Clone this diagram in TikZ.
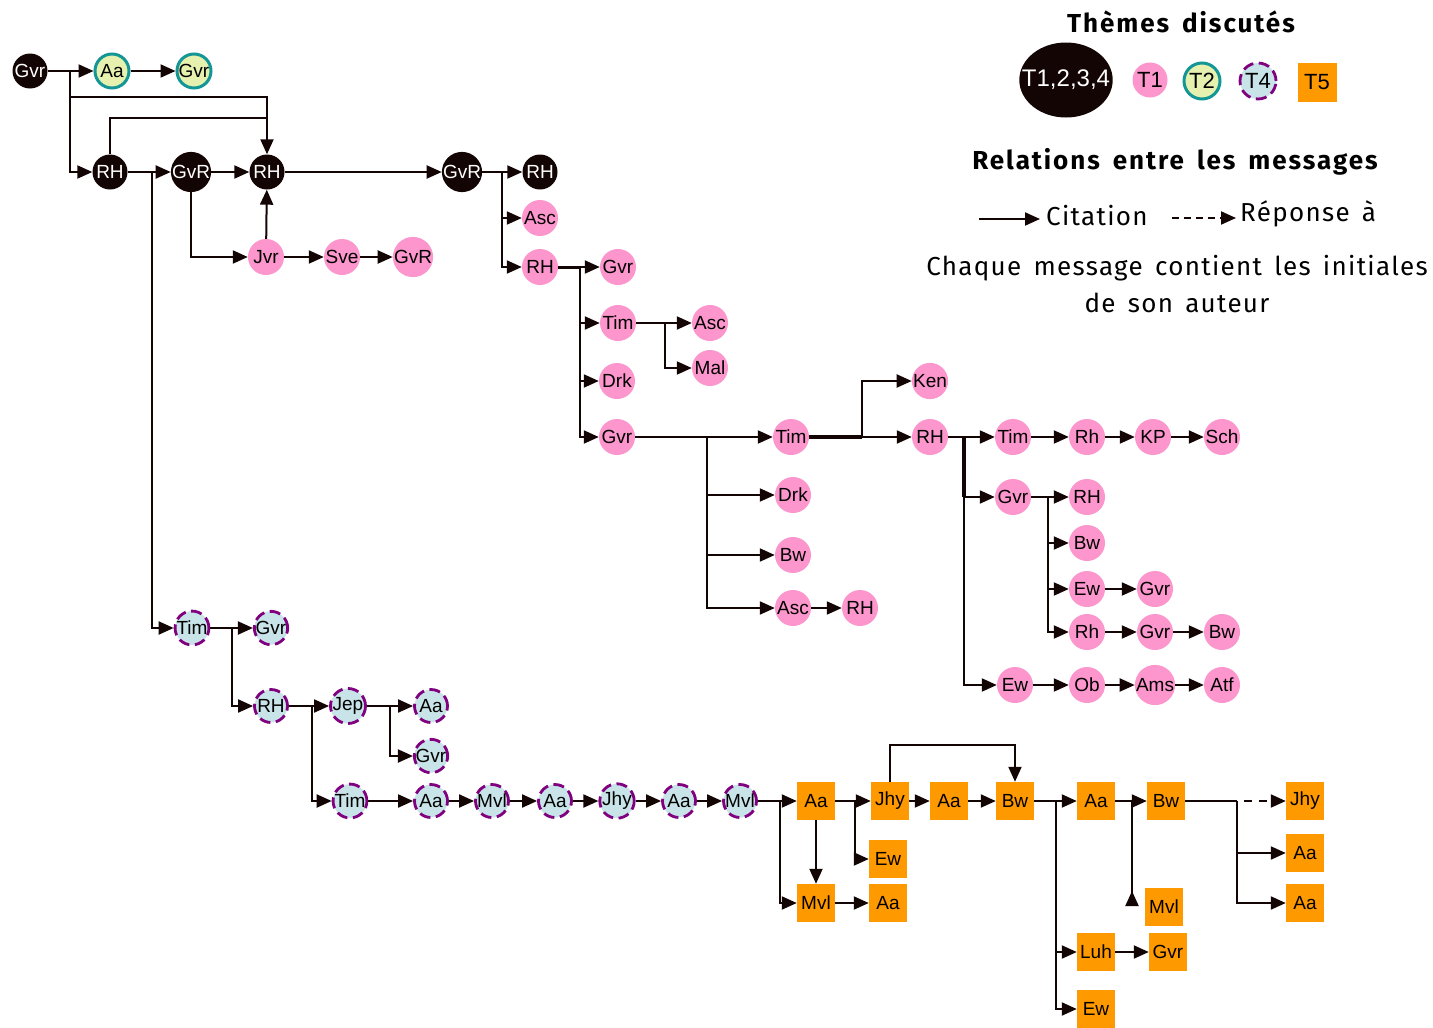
\documentclass[tikz,border=0pt]{standalone}
\usepackage{fontspec}
\setmainfont{Liberation Sans}
\newfontfamily\legfont[LetterSpace=5,WordSpace=1.5]{Fira Sans}
\newfontfamily\legboldfont[LetterSpace=7.5,WordSpace=1.6]{Fira Sans}
\usetikzlibrary{arrows.meta,shapes.geometric,calc}
\definecolor{pk}{RGB}{252,150,204}
\definecolor{og}{RGB}{255,153,0}
\definecolor{tlb}{RGB}{20,150,150}
\definecolor{tlf}{RGB}{230,240,175}
\definecolor{dsf}{RGB}{200,228,232}
\definecolor{dsb}{RGB}{128,0,128}
\definecolor{ink}{RGB}{20,5,5}
\begin{document}
\begin{tikzpicture}[x=1pt,y=-1pt,
 every node/.style={font=\fontsize{19}{19}\selectfont, inner sep=0pt},
 blk/.style={circle,fill=ink,text=white,minimum size=35pt},
 pkn/.style={circle,fill=pk,minimum size=36pt},
 tln/.style={circle,fill=tlf,draw=tlb,line width=3pt,minimum size=34pt},
 dsn/.style={circle,fill=dsf,draw=dsb,line width=2.8pt,dash pattern=on 11pt off 5.5pt,minimum size=33pt},
 ogn/.style={rectangle,fill=og,minimum size=38pt},
 arr/.style={draw=ink,line width=2pt,-{Triangle[length=15pt,width=13pt]}},
 ln/.style={draw=ink,line width=2pt},
 legt/.style={font=\legfont\fontsize{26}{26}\selectfont},
 legb/.style={font=\legboldfont\bfseries\fontsize{26}{26}\selectfont},
]
\useasboundingbox (0,0) rectangle (1433,1028);
\fill[white] (0,0) rectangle (1433,1028);

% ---- legend ----
\node[legb] (lt1) at (1181,22) {Thèmes discutés};
\node[ellipse,fill=ink,text=white,minimum width=93pt,minimum height=75pt,inner xsep=-11pt,font=\fontsize{24}{24}\selectfont] (lg0) at (1066,80) {T1,2,3,4};
\node[pkn,minimum size=35pt,font=\fontsize{22}{22}\selectfont] (lg1) at (1150,80) {T1};
\node[tln,minimum size=36pt,font=\fontsize{22}{22}\selectfont] (lg2) at (1202,81) {T2};
\node[dsn,minimum size=36pt,font=\fontsize{22}{22}\selectfont] (lg3) at (1258,81) {T4};
\node[ogn,minimum size=39pt,font=\fontsize{22}{22}\selectfont] (lg4) at (1317,82) {T5};
\node[legb] (lt2) at (1175,162) {Relations entre les messages};
\coordinate (la1) at (979,219);
\coordinate (la2) at (1040,219);
\draw[arr] (la1) -- (la2);
\node[legt,anchor=west] (lt3) at (1046,216) {Citation};
\coordinate (la3) at (1172,218);
\coordinate (la4) at (1236,218);
\draw[arr,dash pattern=on 7pt off 5pt] (la3) -- (la4);
\node[legt,anchor=west] (lt4) at (1240,214) {Réponse à};
\node[legt] (lt5) at (1177,268) {Chaque message contient les initiales};
\node[legt] (lt6) at (1177,303) {de son auteur};

% ---- black / teal top ----
\node[blk] (g0) at (30,71) {Gvr};
\node[tln] (a1) at (112,71) {Aa};
\node[tln] (g1) at (194,71) {Gvr};
\node[blk] (r1) at (110,172) {RH};
\node[blk] (v1) at (191,172) {GvR};
\node[blk] (r2) at (267,172) {RH};
\node[blk] (v2) at (462,172) {GvR};
\node[blk] (r3) at (540,172) {RH};
\node[pkn] (jv) at (266,257) {Jvr};
\node[pkn] (sv) at (342,257) {Sve};
\node[pkn] (gr) at (413,257) {GvR};
% ---- pink ----
\node[pkn] (as1) at (540,218) {Asc};
\node[pkn] (rp) at (540,267) {RH};
\node[pkn] (gp1) at (618,267) {Gvr};
\node[pkn] (tp1) at (618,323) {Tim};
\node[pkn] (as2) at (710,323) {Asc};
\node[pkn] (ml) at (710,368) {Mal};
\node[pkn] (dk1) at (617,381) {Drk};
\node[pkn] (gp2) at (617,437) {Gvr};
\node[pkn] (tp2) at (791,437) {Tim};
\node[pkn] (ken) at (930,381) {Ken};
\node[pkn] (rh4) at (930,437) {RH};
\node[pkn] (dk2) at (793,495) {Drk};
\node[pkn] (bw1) at (793,555) {Bw};
\node[pkn] (as3) at (793,608) {Asc};
\node[pkn] (rh5) at (860,608) {RH};
\node[pkn] (tp3) at (1013,437) {Tim};
\node[pkn] (rh6) at (1087,437) {Rh};
\node[pkn] (kp) at (1153,437) {KP};
\node[pkn] (sch) at (1222,437) {Sch};
\node[pkn] (gp3) at (1013,497) {Gvr};
\node[pkn] (rh7) at (1087,497) {RH};
\node[pkn] (bw2) at (1087,543) {Bw};
\node[pkn] (ew1) at (1087,589) {Ew};
\node[pkn] (gp4) at (1155,589) {Gvr};
\node[pkn] (rh8) at (1087,632) {Rh};
\node[pkn] (gp5) at (1155,632) {Gvr};
\node[pkn] (bw3) at (1222,632) {Bw};
\node[pkn] (ew2) at (1015,685) {Ew};
\node[pkn] (ob) at (1087,685) {Ob};
\node[pkn] (ams) at (1155,685) {Ams};
\node[pkn] (atf) at (1222,685) {Atf};
% ---- dashed ----
\node[dsn] (t1) at (192,628) {Tim};
\node[dsn] (dg1) at (271,628) {Gvr};
\node[dsn] (dr1) at (271,706) {RH};
\node[dsn] (je) at (348,706) {Jep};
\node[dsn] (da1) at (431,706) {Aa};
\node[dsn] (dg2) at (431,756) {Gvr};
\node[dsn] (t2) at (350,801) {Tim};
\node[dsn] (da2) at (431,801) {Aa};
\node[dsn] (dm1) at (492,801) {Mvl};
\node[dsn] (da3) at (555,801) {Aa};
\node[dsn] (dj) at (617,801) {Jhy};
\node[dsn] (da4) at (679,801) {Aa};
\node[dsn] (dm2) at (740,801) {Mvl};
% ---- orange ----
\node[ogn] (o1) at (816,801) {Aa};
\node[ogn] (o2) at (890,801) {Jhy};
\node[ogn] (o3) at (949,801) {Aa};
\node[ogn] (o4) at (1015,801) {Bw};
\node[ogn] (o5) at (888,859) {Ew};
\node[ogn] (o6) at (816,903) {Mvl};
\node[ogn] (o7) at (888,903) {Aa};
\node[ogn] (o8) at (1096,801) {Aa};
\node[ogn] (o9) at (1166,801) {Bw};
\node[ogn] (o10) at (1305,801) {Jhy};
\node[ogn] (o11) at (1305,853) {Aa};
\node[ogn] (o12) at (1305,903) {Aa};
\node[ogn] (o13) at (1164,907) {Mvl};
\node[ogn] (o14) at (1096,952) {Luh};
\node[ogn] (o15) at (1168,952) {Gvr};
\node[ogn] (o16) at (1096,1009) {Ew};

% ---- connectors: top ----
\coordinate (b0) at (70,71);
\coordinate (b0b) at (70,97);
\coordinate (c118) at (267,118);
\draw[arr] (g0) -- (a1);
\draw[arr] (a1) -- (g1);
\draw[arr] (b0) |- (r1);
\draw[arr] (b0b) -| (r2);
\draw[ln] (r1) |- (c118);
\draw[arr] (r1) -- (v1);
\coordinate (b1) at (152,172);
\draw[arr] (b1) |- (t1);
\draw[arr] (v1) -- (r2);
\draw[arr] (v1) |- (jv);
\draw[arr] (jv) -- (r2);
\draw[arr] (jv) -- (sv);
\draw[arr] (sv) -- (gr);
\draw[arr] (r2) -- (v2);
\draw[arr] (v2) -- (r3);
\coordinate (b2) at (502,172);
\draw[arr] (b2) |- (as1);
\draw[arr] (b2) |- (rp);
% ---- pink ----
\draw[arr] (rp) -- (gp1);
\coordinate (b3) at (580,267);
\draw[ln,line width=3pt] (rp) -- (b3);
\draw[arr] (b3) |- (tp1);
\draw[arr] (b3) |- (dk1);
\draw[arr] (b3) |- (gp2);
\draw[arr] (tp1) -- (as2);
\coordinate (b4) at (665,323);
\draw[arr] (b4) |- (ml);
\draw[arr] (gp2) -- (tp2);
\coordinate (b5) at (707,437);
\draw[arr] (b5) |- (dk2);
\draw[arr] (b5) |- (bw1);
\draw[arr] (b5) |- (as3);
\draw[arr] (as3) -- (rh5);
\coordinate (b6) at (862,437);
\draw[arr] (tp2) -- (rh4);
\draw[ln,line width=3.2pt] (tp2) -- (b6);
\draw[arr] (b6) |- (ken);
\draw[arr] (rh4) -- (tp3);
\coordinate (b7) at (964,437);
\coordinate (b7b) at (964,497);
\draw[ln,line width=3.2pt] (b7) -- (b7b);
\draw[arr] (b7) |- (gp3);
\draw[arr] (b7) |- (ew2);
\draw[arr] (tp3) -- (rh6);
\draw[arr] (rh6) -- (kp);
\draw[arr] (kp) -- (sch);
\draw[arr] (gp3) -- (rh7);
\coordinate (b8) at (1048,497);
\draw[arr] (b8) |- (bw2);
\draw[arr] (b8) |- (ew1);
\draw[arr] (b8) |- (rh8);
\draw[arr] (ew1) -- (gp4);
\draw[arr] (rh8) -- (gp5);
\draw[arr] (gp5) -- (bw3);
\draw[arr] (ew2) -- (ob);
\draw[arr] (ob) -- (ams);
\draw[arr] (ams) -- (atf);
% ---- dashed ----
\draw[arr] (t1) -- (dg1);
\coordinate (b9) at (232,628);
\draw[arr] (b9) |- (dr1);
\draw[arr] (dr1) -- (je);
\coordinate (b10) at (312,706);
\draw[arr] (b10) |- (t2);
\draw[arr] (je) -- (da1);
\coordinate (b11) at (390,706);
\draw[arr] (b11) |- (dg2);
\draw[arr] (t2) -- (da2);
\draw[arr] (da2) -- (dm1);
\draw[arr] (dm1) -- (da3);
\draw[arr] (da3) -- (dj);
\draw[arr] (dj) -- (da4);
\draw[arr] (da4) -- (dm2);
% ---- orange ----
\draw[arr] (dm2) -- (o1);
\coordinate (b12) at (780,801);
\draw[arr] (b12) |- (o6);
\draw[arr] (o1) -- (o6);
\draw[arr] (o1) -- (o2);
\coordinate (b13) at (855,801);
\draw[arr] (b13) |- (o5);
\draw[arr] (o2) -- (o3);
\draw[arr] (o3) -- (o4);
\coordinate (c745) at (953,745);
\draw[arr] (o2) |- (c745) -| (o4);
\draw[arr] (o6) -- (o7);
\draw[arr] (o4) -- (o8);
\coordinate (b14) at (1056,801);
\draw[arr] (b14) |- (o14);
\draw[arr] (b14) |- (o16);
\draw[arr] (o8) -- (o9);
\coordinate (b15) at (1132,801);
\coordinate (e15) at (1132,906);
\draw[ln,-{Triangle[length=15pt,width=13pt,reversed]}] (b15) -- (e15);
\draw[arr] (o14) -- (o15);
\coordinate (b16) at (1237,801);
\draw[ln] (o9) -- (b16);
\draw[arr,dash pattern=on 8pt off 7pt,dash phase=8pt] (b16) -- (o10);
\draw[arr] (b16) |- (o11);
\draw[arr] (b16) |- (o12);
\end{tikzpicture}
\end{document}
